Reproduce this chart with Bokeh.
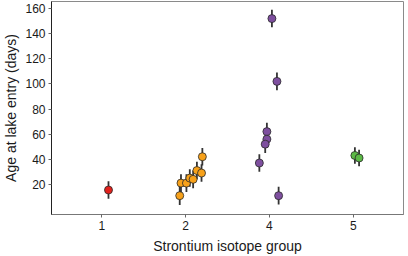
from bokeh.plotting import figure
from bokeh.models import ColumnDataSource, FixedTicker, Range1d
from bokeh.embed import file_html
from bokeh.resources import INLINE

# Categories (strontium isotope groups) and their fill colours
group_labels = ["1", "2", "4", "5"]
group_colors = ["#E3211C", "#F7A11A", "#7E4F9F", "#5CB946"]

# Individual fish: group, horizontal jitter, age at lake entry (days), error bar
point_group = ["1",
               "2", "2", "2", "2", "2", "2", "2", "2",
               "4", "4", "4", "4", "4", "4", "4",
               "5", "5"]
jitter = [0.08,
          -0.07, -0.055, 0.01, 0.05, 0.09, 0.135, 0.19, 0.20,
          0.03, 0.09, -0.03, -0.03, -0.05, -0.12, 0.11,
          0.02, 0.07]
age = [15.5,
       11.0, 21.0, 21.0, 25.0, 24.0, 31.0, 29.0, 42.0,
       152.0, 102.0, 62.0, 56.0, 52.0, 37.0, 11.0,
       43.0, 41.0]
err = [7.0,
       7.5, 7.0, 7.0, 7.0, 7.0, 7.0, 7.0, 7.0,
       7.0, 7.0, 7.0, 7.0, 7.0, 7.0, 7.0,
       6.5, 6.5]

y_ticks = [20, 40, 60, 80, 100, 120, 140, 160]

pos = {g: i + 1 for i, g in enumerate(group_labels)}
col = dict(zip(group_labels, group_colors))
xs = [pos[g] + j for g, j in zip(point_group, jitter)]
src = ColumnDataSource(dict(
    x=xs, age=age,
    lo=[a - e for a, e in zip(age, err)],
    hi=[a + e for a, e in zip(age, err)],
    color=[col[g] for g in point_group],
))

p = figure(frame_width=352, frame_height=213, output_backend="svg", toolbar_location=None,
           x_range=Range1d(0.4, len(group_labels) + 0.6), y_range=Range1d(-4, 165.6),
           min_border_left=44, min_border_right=3, min_border_top=1, min_border_bottom=30)

p.segment(x0="x", y0="lo", x1="x", y1="hi", source=src, line_color="#333333", line_width=1.8)
p.scatter(x="x", y="age", source=src, size=8, fill_color="color", line_color="#2a2a2a", line_width=0.8)

p.xgrid.visible = False
p.ygrid.visible = False
p.outline_line_color = "#8a8a8a"
p.outline_line_width = 1

p.xaxis.ticker = FixedTicker(ticks=list(range(1, len(group_labels) + 1)))
p.xaxis.major_label_overrides = {i + 1: g for i, g in enumerate(group_labels)}
p.yaxis.ticker = FixedTicker(ticks=y_ticks)

p.xaxis.axis_label = "Strontium isotope group"
p.yaxis.axis_label = "Age at lake entry (days)"

for ax in (p.xaxis[0], p.yaxis[0]):
    ax.minor_tick_line_color = None
    ax.major_tick_in = 0
    ax.major_tick_out = 3
    ax.major_tick_line_color = "#666666"
    ax.major_label_text_font = "Liberation Sans"
    ax.major_label_text_font_size = "12px"
    ax.major_label_text_color = "#1a1a1a"
    ax.axis_label_text_font = "Liberation Sans"
    ax.axis_label_text_font_size = "14px"
    ax.axis_label_text_font_style = "normal"
    ax.axis_label_text_color = "#1a1a1a"
    ax.major_label_standoff = 3
    ax.axis_label_standoff = 3

p.xaxis.axis_label_standoff = 5
p.yaxis.axis_line_color = "#222222"
p.xaxis.axis_line_color = "#777777"

open("out.html", "w").write(file_html(p, INLINE))
